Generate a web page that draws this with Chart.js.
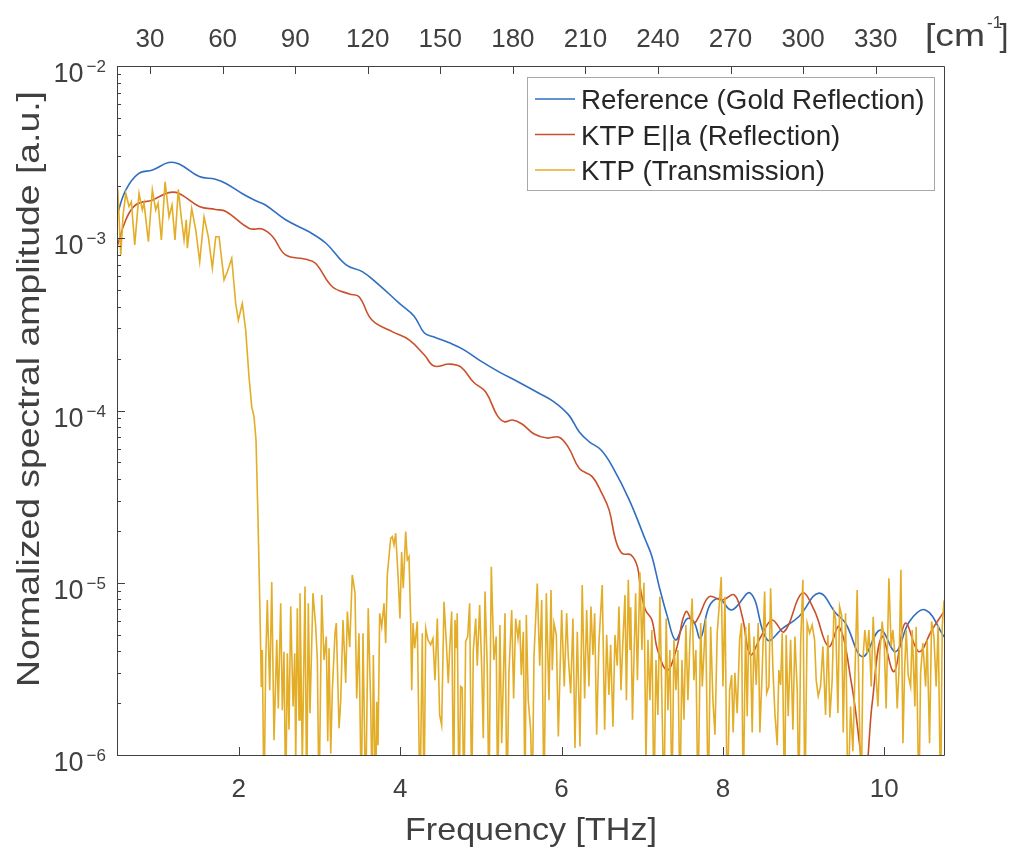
<!DOCTYPE html>
<html><head><meta charset="utf-8">
<script src="https://cdn.jsdelivr.net/npm/chart.js@4.4.1/dist/chart.umd.min.js"></script>
<style>html,body{margin:0;padding:0;background:#fff;}canvas{display:block;}</style>
</head><body>
<canvas id="c" width="1011" height="850"></canvas>
<script>
// ---------- data ----------
const freqRef = [0.49,0.60,0.76,0.93,1.13,1.26,1.51,1.71,1.84,2.04,2.21,2.33,2.58,2.87,3.08,3.33,3.53,3.74,3.99,4.17,4.30,4.42,4.61,4.79,4.98,5.23,5.47,5.72,5.91,6.09,6.22,6.34,6.49,6.63,6.84,7.04,7.12,7.21,7.31,7.41,7.50,7.56,7.64,7.72,7.83,7.95,8.11,8.34,8.55,8.74,8.94,9.19,9.40,9.52,9.73,9.95,10.14,10.31,10.51,10.74];
const ampRef = [1.36e-3,1.91e-3,2.38e-3,2.49e-3,2.75e-3,2.70e-3,2.28e-3,2.20e-3,2.08e-3,1.82e-3,1.65e-3,1.56e-3,1.28e-3,1.09e-3,9.35e-4,7.0e-4,6.4e-4,5.35e-4,4.19e-4,3.54e-4,2.82e-4,2.67e-4,2.47e-4,2.25e-4,1.96e-4,1.67e-4,1.46e-4,1.26e-4,1.12e-4,9.4e-5,7.5e-5,6.6e-5,5.9e-5,4.72e-5,3.02e-5,1.77e-5,1.42e-5,9.5e-6,6.4e-6,4.66e-6,5.56e-6,6.2e-6,5.94e-6,4.76e-6,7.3e-6,8.1e-6,6.95e-6,8.7e-6,4.66e-6,5.44e-6,6.35e-6,8.7e-6,6.65e-6,5.82e-6,3.72e-6,5.32e-6,3.98e-6,5.94e-6,6.95e-6,4.86e-6];

const freqKtpR = [0.49,0.60,0.72,0.93,1.13,1.26,1.51,1.71,1.84,2.13,2.29,2.42,2.58,2.83,2.95,3.16,3.37,3.49,3.65,3.90,4.11,4.30,4.42,4.61,4.75,4.91,5.06,5.20,5.29,5.39,5.51,5.66,5.82,5.97,6.09,6.22,6.38,6.50,6.59,6.67,6.75,6.86,6.94,6.98,7.04,7.12,7.19,7.31,7.42,7.54,7.64,7.70,7.83,7.99,8.14,8.24,8.34,8.47,8.61,8.76,8.98,9.13,9.31,9.44,9.60,9.76,9.85,9.97,10.12,10.26,10.43,10.59,10.74];
const ampKtpR = [8.9e-4,1.28e-3,1.56e-3,1.67e-3,1.84e-3,1.82e-3,1.53e-3,1.47e-3,1.43e-3,1.14e-3,1.13e-3,1.02e-3,8.0e-4,7.55e-4,7.16e-4,5.23e-4,4.75e-4,4.58e-4,3.35e-4,2.87e-4,2.57e-4,2.10e-4,1.81e-4,1.86e-4,1.79e-4,1.46e-4,1.28e-4,9.4e-5,8.6e-5,8.8e-5,8.35e-5,7.3e-5,6.92e-5,7.0e-5,6.05e-5,4.61e-5,4.13e-5,3.3e-5,2.64e-5,1.77e-5,1.48e-5,1.45e-5,1.24e-5,9.1e-6,6.95e-6,6.08e-6,4.07e-6,3.11e-6,4.07e-6,6.8e-6,5.84e-6,6.35e-6,8.3e-6,7.94e-6,8.5e-6,6.35e-6,3.83e-6,4.86e-6,6.08e-6,5.2e-6,8.7e-6,6.95e-6,4.26e-6,5.56e-6,2.49e-6,8e-7,2.0e-6,4.86e-6,3.05e-6,5.82e-6,3.98e-6,5.32e-6,6.8e-6];

const freqKtpT = [0.49,0.503,0.537,0.565,0.599,0.639,0.668,0.710,0.763,0.804,0.825,0.879,0.928,0.970,0.999,1.040,1.086,1.135,1.172,1.209,1.250,1.284,1.321,1.349,1.362,1.416,1.466,1.515,1.569,1.622,1.672,1.714,1.755,1.817,1.857,1.912,1.961,1.994,2.043,2.085,2.126,2.160,2.188,2.213,2.238,2.259,2.271,2.279,2.291,2.312,
2.333,2.353,2.383,2.408,2.436,2.470,2.489,2.519,2.539,2.560,2.581,2.601,2.622,2.643,2.672,2.693,2.705,2.725,2.746,2.758,2.787,2.820,2.841,2.861,2.882,2.919,2.953,2.973,2.994,3.027,3.056,3.084,3.102,3.118,3.139,3.159,3.192,3.208,3.242,3.263,3.291,3.325,3.345,3.374,3.406,3.440,3.461,3.489,3.518,3.539,3.572,3.604,3.634,3.654,3.667,3.696,3.709,3.725,3.746,3.771,3.799,3.820,3.840,3.882,3.902,3.923,3.944,3.976,3.997,4.018,4.038,4.068,4.088,4.109,4.130,4.143,4.159,4.180,4.212,4.245,4.274,4.295,4.316,4.344,4.378,4.406,4.431,4.460,4.489,4.514,4.543,4.571,4.596,4.613,4.638,4.663,4.679,4.695,4.707,4.728,4.749,4.769,4.790,4.811,4.836,4.861,4.886,4.906,4.936,4.955,4.985,5.010,5.030,5.051,5.079,5.100,5.129,5.162,5.190,5.208,5.236,5.258,5.299,5.323,5.348,5.382,5.406,5.431,5.460,5.481,5.501,5.526,5.547,5.563,5.587,5.617,5.637,5.658,5.699,5.729,5.754,5.782,5.811,5.844,5.869,5.885,5.906,5.935,5.960,6.001,6.033,6.063,6.083,6.113,6.141,6.166,6.195,6.228,6.256,6.286,6.311,6.339,6.364,6.389,6.410,6.435,6.463,6.504,6.534,6.559,6.587,6.608,6.637,6.662,6.690,6.711,6.736,6.761,6.786,6.804,6.827,6.848,6.857,6.879,6.897,6.918,6.940,6.971,6.996,7.021,7.046,7.071,7.095,7.120,7.145,7.170,7.194,7.219,7.244,7.269,7.297,7.318,7.343,7.368,7.393,7.417,7.442,7.467,7.492,7.517,7.541,7.566,7.591,7.619,7.640,7.665,7.690,7.724,7.744,7.786,7.818,7.848,7.876,7.901,7.929,7.950,7.979,8.000,8.025,8.053,8.083,8.108,8.127,8.148,8.177,8.207,8.231,8.251,8.281,8.301,8.322,8.343,8.363,8.384,8.413,8.437,8.458,8.487,8.517,8.542,8.570,8.591,8.620,8.644,8.673,8.693,8.715,8.735,8.764,8.784,8.809,8.839,8.867,8.892,8.921,8.941,8.963,8.991,9.016,9.044,9.074,9.106,9.136,9.156,9.181,9.210,9.239,9.272,9.301,9.325,9.354,9.375,9.396,9.425,9.446,9.471,9.491,9.520,9.549,9.582,9.611,9.644,9.664,9.685,9.714,9.735,9.759,9.788,9.809,9.838,9.862,9.892,9.921,9.945,9.974,9.999,10.023,10.057,10.085,10.106,10.140,10.160,10.181,10.206,10.231,10.252,10.272,10.296,10.326,10.346,10.379,10.395,10.429,10.450,10.478,10.512,10.532,10.561,10.586,10.615,10.643,10.668,10.698,10.718,10.74];
const ampKtpT = [1.63e-3,1.78e-3,8.0e-4,1.36e-3,1.82e-3,1.53e-3,1.63e-3,9.14e-4,1.82e-3,1.46e-3,1.60e-3,9.55e-4,1.91e-3,1.46e-3,1.60e-3,9.77e-4,2.13e-3,1.33e-3,1.56e-3,9.77e-4,1.92e-3,1.36e-3,9.77e-4,1.28e-3,8.76e-4,1.49e-3,1.12e-3,7.30e-4,1.33e-3,1.02e-3,6.70e-4,1.02e-3,1.02e-3,5.73e-4,6.39e-4,7.64e-4,4.18e-4,3.35e-4,4.18e-4,2.93e-4,1.57e-4,1.05e-4,9.2e-5,6.74e-5,2.31e-5,7.94e-6,4.07e-6,2.48e-6,4.07e-6,5e-7,
3.41e-6,7.94e-6,2.38e-6,1.01e-5,1.22e-6,4.66e-6,1.86e-6,7.6e-6,1.82e-6,3.97e-6,5e-7,3.89e-6,1.40e-6,7.28e-6,1.91e-6,3.89e-6,9e-7,7.12e-6,1.60e-6,8.7e-6,9e-7,9.5e-6,5e-7,7.6e-6,1.75e-6,8.7e-6,5.56e-6,3.56e-6,5e-7,8.49e-6,3.56e-6,4.87e-6,1.2e-6,4.17e-6,1.02e-6,2.38e-6,5.09e-6,5.83e-6,1.43e-6,2.08e-6,6.08e-6,2.62e-6,6.8e-6,4.23e-6,1.11e-5,8.7e-6,2.13e-6,5.09e-6,5e-7,5.09e-6,5e-7,7.12e-6,1.99e-6,5e-7,3.81e-6,5e-7,2.04e-6,1.14e-6,6.65e-6,5.56e-6,7.6e-6,4.46e-6,1.11e-5,1.81e-5,1.85e-5,1.66e-5,1.94e-5,1.04e-5,6.2e-6,1.51e-5,9.3e-6,1.98e-5,1.36e-5,1.42e-5,6.08e-6,2.38e-6,5.83e-6,4.17e-6,5.96e-6,5e-7,5.09e-6,5e-7,5.44e-6,4.66e-6,4.36e-6,4.74e-6,2.72e-6,6.2e-6,1.71e-6,1.49e-6,7.76e-6,4.56e-6,2.61e-6,4.07e-6,6.8e-6,5e-7,6.08e-6,4.17e-6,6.65e-6,5e-7,2.5e-6,2.45e-6,5e-7,4.56e-6,4.87e-6,7.6e-6,5e-7,4.07e-6,6.2e-6,3.3e-6,7.43e-6,3.23e-6,1.25e-6,8.9e-6,3.23e-6,5e-7,1.24e-5,3.56e-6,4.87e-6,5e-7,5.69e-6,1.17e-6,6.65e-6,5e-7,3.0e-6,6.95e-6,2.13e-6,6.2e-6,4.76e-6,6.08e-6,2.91e-6,5.2e-6,5e-7,6.5e-6,2.08e-6,1.4e-6,5e-7,3.73e-6,9.9e-6,3.3e-6,7.94e-6,5e-7,8.7e-6,2.08e-6,9.08e-6,3.11e-6,5.83e-6,4.98e-6,1.28e-6,6.95e-6,2.5e-6,6.65e-6,3.73e-6,2.28e-6,6.2e-6,1.1e-6,5.2e-6,1.12e-6,9.7e-6,2.13e-6,6.95e-6,2.5e-6,7.28e-6,3.81e-6,6.65e-6,1.31e-6,4.46e-6,9.7e-6,1.4e-6,4.98e-6,2.23e-6,4.36e-6,1.46e-6,4.98e-6,3.3e-6,7.28e-6,2.38e-6,4.66e-6,8.49e-6,2.08e-6,1.04e-5,4.07e-6,7.2e-6,1.6e-6,3.56e-6,8.7e-6,2.72e-6,1.15e-5,4.07e-6,1.0e-5,9e-7,4.66e-6,2.08e-6,5.32e-6,5e-7,3.56e-6,1.71e-6,8.3e-6,2.08e-6,5e-7,6.2e-6,1.82e-6,4.07e-6,5e-7,4.66e-6,2.38e-6,4.07e-6,5e-7,3.56e-6,1.6e-6,5.69e-6,2.08e-6,4.66e-6,8.1e-6,2.72e-6,4.07e-6,5e-7,5.83e-6,2.5e-6,6.2e-6,5e-7,5.56e-6,2.08e-6,1.31e-6,5.09e-6,6.95e-6,1.08e-5,2.5e-6,8.3e-6,5e-7,2.38e-6,2.91e-6,1.35e-6,3.0e-6,1.75e-6,4.66e-6,5.83e-6,5e-7,5.56e-6,1.68e-6,5.83e-6,3.73e-6,1.35e-6,4.87e-6,2.55e-6,5.83e-6,1.35e-6,3.11e-6,8.9e-6,2.28e-6,2.5e-6,9.3e-6,3.11e-6,1.75e-6,1.14e-6,3.11e-6,2.55e-6,5.09e-6,5e-7,4.98e-6,1.68e-6,4.66e-6,1.4e-6,4.87e-6,2.38e-6,5e-7,4.46e-6,1.04e-5,5e-7,5.83e-6,5.09e-6,5.69e-6,4.66e-6,2.72e-6,2.2e-6,2.5e-6,4.27e-6,1.71e-6,4.98e-6,1.65e-6,2.72e-6,6.8e-6,6.2e-6,1.75e-6,7.28e-6,6.5e-6,1.35e-6,6.65e-6,5e-7,1.91e-6,1.05e-6,4.07e-6,9.08e-6,2.38e-6,5e-7,3.56e-6,5.32e-6,3.89e-6,5.32e-6,2.5e-6,6.35e-6,3.18e-6,1.91e-6,3.97e-6,5.96e-6,4.46e-6,1.86e-6,1.06e-5,4.27e-6,5.32e-6,3.41e-6,1.86e-6,3.0e-6,1.19e-5,1.17e-6,3.11e-6,5.32e-6,2.91e-6,2.5e-6,5.32e-6,1.91e-6,5.56e-6,5e-7,3.0e-6,4.46e-6,2.5e-6,4.66e-6,1.17e-6,5.96e-6,4.87e-6,2.5e-6,5.69e-6,5e-7,5.56e-6,7.9e-6];

const seriesNames = ['Reference (Gold Reflection)', 'KTP E||a (Reflection)', 'KTP (Transmission)'];
const seriesColors = ['#2f6ec2', '#c9502a', '#e3ad27'];
const xTicksTHz = [2, 4, 6, 8, 10];
const xTicksCm = [30, 60, 90, 120, 150, 180, 210, 240, 270, 300, 330];
const yTickExps = [-6, -5, -4, -3, -2];
const xLabel = 'Frequency [THz]';
const yLabel = 'Normalized spectral amplitude [a.u.]';
const THZ_TO_CM = 33.356;
const xMin = 0.49, xMax = 10.74, yMin = 1e-6, yMax = 1e-2;

// ---------- drawing ----------
const pts = (xs, ys) => xs.map((x, i) => ({x: x, y: ys[i]}));
const AX = '#404040';
const FONT = '"Liberation Sans", Arial, Helvetica, sans-serif';
const MINUS = '\u2212';

function stretchText(ctx, text, x, y, targetW) {
  const w = ctx.measureText(text).width;
  ctx.save();
  ctx.translate(x, y);
  ctx.scale(targetW / w, 1);
  ctx.textAlign = 'center';
  ctx.fillText(text, 0, 0);
  ctx.restore();
}

const axesPlugin = {
  id: 'matlabAxes',
  afterDatasetsDraw(chart) {
    const ctx = chart.ctx, a = chart.chartArea;
    const sx = chart.scales.x, sx2 = chart.scales.x2, sy = chart.scales.y;
    ctx.save();
    ctx.strokeStyle = AX; ctx.lineWidth = 1;
    ctx.beginPath();
    ctx.rect(Math.round(a.left) + 0.5, Math.round(a.top) + 0.5, Math.round(a.right - a.left), Math.round(a.bottom - a.top));
    ctx.stroke();
    ctx.beginPath();
    xTicksTHz.forEach(v => { const p = Math.round(sx.getPixelForValue(v)) + 0.5; ctx.moveTo(p, a.bottom); ctx.lineTo(p, a.bottom - 8); });
    xTicksCm.forEach(v => { const p = Math.round(sx2.getPixelForValue(v)) + 0.5; ctx.moveTo(p, a.top); ctx.lineTo(p, a.top + 8); });
    yTickExps.forEach((e, i) => {
      const base = Math.pow(10, e);
      const p = Math.round(sy.getPixelForValue(base)) + 0.5;
      ctx.moveTo(a.left, p); ctx.lineTo(a.left + 8, p);
      if (i < yTickExps.length - 1) {
        for (let m = 2; m <= 9; m++) {
          const q = Math.round(sy.getPixelForValue(m * base)) + 0.5;
          ctx.moveTo(a.left, q); ctx.lineTo(a.left + 4, q);
        }
      }
    });
    ctx.stroke();

    ctx.fillStyle = AX;
    ctx.font = '26px ' + FONT; ctx.textAlign = 'center'; ctx.textBaseline = 'alphabetic';
    xTicksTHz.forEach(v => ctx.fillText(String(v), sx.getPixelForValue(v), a.bottom + 42));
    xTicksCm.forEach(v => ctx.fillText(String(v), sx2.getPixelForValue(v), a.top - 19));
    // y tick labels 10^e
    yTickExps.forEach(e => {
      const p = sy.getPixelForValue(Math.pow(10, e));
      ctx.textAlign = 'right';
      ctx.font = '17px ' + FONT;
      const sup = String(e).replace('-', MINUS);
      const w = ctx.measureText(sup).width;
      ctx.fillText(sup, a.left - 11, p + 6);
      ctx.font = '27px ' + FONT;
      ctx.fillText('10', a.left - 14 - w, p + 16);
    });
    // [cm^-1] unit label
    ctx.font = '32px ' + FONT;
    stretchText(ctx, '[cm', 925 + 30, 46, 60);
    ctx.textAlign = 'left';
    ctx.font = '17px ' + FONT;
    ctx.fillText('-1', 987, 28);
    ctx.font = '32px ' + FONT;
    stretchText(ctx, ']', 1004, 46, 9);
    // axis titles
    ctx.font = '32px ' + FONT;
    stretchText(ctx, xLabel, 531, 840, 252);
    ctx.save();
    ctx.translate(39, 389);
    ctx.rotate(-Math.PI / 2);
    stretchText(ctx, yLabel, 0, 0, 596);
    ctx.restore();
    // legend
    const lx = 527, ly = 77, lw = 407, lh = 113;
    ctx.fillStyle = '#fff';
    ctx.fillRect(lx, ly, lw, lh);
    ctx.strokeStyle = '#a8a8a8'; ctx.lineWidth = 1;
    ctx.strokeRect(lx + 0.5, ly + 0.5, lw, lh);
    ctx.font = '28px ' + FONT; ctx.textAlign = 'left';
    seriesNames.forEach((n, i) => {
      const cy = 99 + i * 35.5;
      ctx.strokeStyle = seriesColors[i]; ctx.lineWidth = 1.6;
      ctx.beginPath(); ctx.moveTo(535, cy); ctx.lineTo(575, cy); ctx.stroke();
      ctx.fillStyle = '#262626';
      stretchText(ctx, n, 581 + (ctx.measureText(n).width * 0.99) / 2, cy + 10, ctx.measureText(n).width * 0.99);
    });
    ctx.restore();
  }
};

new Chart(document.getElementById('c'), {
  type: 'line',
  data: {
    datasets: [
      {label: seriesNames[0], data: pts(freqRef, ampRef), borderColor: seriesColors[0], borderWidth: 1.6, pointRadius: 0, tension: 0.4, order: 2},
      {label: seriesNames[1], data: pts(freqKtpR, ampKtpR), borderColor: seriesColors[1], borderWidth: 1.6, pointRadius: 0, tension: 0.4, order: 1},
      {label: seriesNames[2], data: pts(freqKtpT, ampKtpT), borderColor: seriesColors[2], borderWidth: 1.6, pointRadius: 0, tension: 0, order: 0}
    ]
  },
  options: {
    responsive: false, animation: false, devicePixelRatio: 1,
    layout: {padding: {left: 0, right: 67, top: 0, bottom: 0}},
    plugins: {legend: {display: false}, tooltip: {enabled: false}},
    scales: {
      x: {type: 'linear', position: 'bottom', min: xMin, max: xMax,
          ticks: {display: false}, grid: {display: false}, border: {display: false},
          afterFit: s => { s.height = 95; }},
      x2: {type: 'linear', position: 'top', min: xMin * THZ_TO_CM, max: xMax * THZ_TO_CM,
          ticks: {display: false}, grid: {display: false}, border: {display: false},
          afterFit: s => { s.height = 66; }},
      y: {type: 'logarithmic', min: yMin, max: yMax,
          ticks: {display: false}, grid: {display: false}, border: {display: false},
          afterFit: s => { s.width = 117; }}
    }
  },
  plugins: [axesPlugin]
});
</script>
</body></html>
